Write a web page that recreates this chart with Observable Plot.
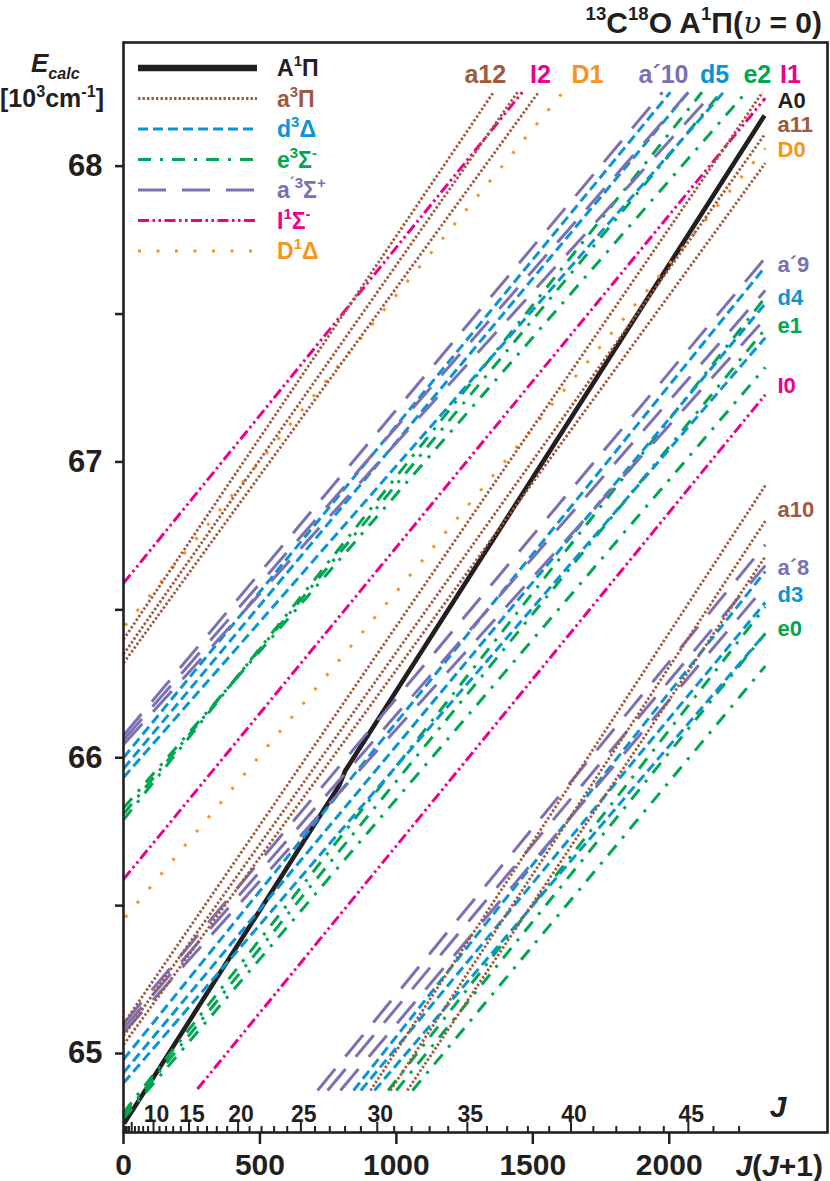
<!DOCTYPE html>
<html><head><meta charset="utf-8">
<script src="https://cdn.jsdelivr.net/npm/d3@7"></script>
<script src="https://cdn.jsdelivr.net/npm/@observablehq/plot@0.6"></script>
<style>
body{margin:0;background:#fff;}
#wrap{position:relative;width:830px;height:1181px;font-family:"Liberation Sans",Arial,sans-serif;}
#wrap svg{position:absolute;left:0;top:0;}
</style></head><body><div id="wrap"></div>
<script>
// ---------- data (x = J(J+1), y = E in 10^3 cm^-1) ----------
// A1Pi v=0 (solid black) : polyline points
const A1Pi_u = [2, 790, 812, 2349];
const A1Pi_E = [64.763, 65.905, 65.955, 68.171];
// each segment: [u start, E start, u end, E end]
const a3Pi = [
  [0, 66.40, 1356, 68.25], [0, 66.35, 1444, 68.25], [0, 66.32, 1521, 68.25],      // a12
  [0, 65.10, 2342, 68.25], [0, 65.06, 2352, 68.11], [0, 65.03, 2352, 68.01],      // a11
  [905, 64.875, 2352, 66.92], [978, 64.875, 2352, 66.80], [1040, 64.875, 2352, 66.68] // a10
];
const d3Delta = [
  [0, 66.00, 2004, 68.25], [0, 65.963, 2070, 68.25], [0, 65.933, 2199, 68.25],    // d5
  [0, 64.98, 2352, 67.66], [0, 64.935, 2352, 67.535], [0, 64.90, 2352, 67.42],    // d4
  [843, 64.875, 2352, 66.63], [870, 64.875, 2352, 66.525], [920, 64.875, 2352, 66.42] // d3
];
const e3Sigma = [
  [0, 65.83, 2272, 68.24], [0, 65.81, 2190, 68.25], [0, 65.79, 2120, 68.25],      // e2
  [0, 64.80, 2352, 67.556], [0, 64.79, 2352, 67.45], [0, 64.78, 2352, 67.32],     // e1
  [970, 64.875, 2352, 66.51], [1000, 64.875, 2352, 66.42], [1059, 64.875, 2352, 66.31] // e0
];
const ap3Sigma = [
  [0, 66.075, 1975, 68.25], [0, 66.06, 2070, 68.25], [0, 66.045, 2162, 68.25],    // a'10
  [0, 65.10, 2352, 67.69], [0, 65.085, 2352, 67.58], [0, 65.07, 2352, 67.485],    // a'9
  [711, 64.875, 2352, 66.72], [748, 64.875, 2352, 66.65], [795, 64.875, 2352, 66.58] // a'8
];
const I1Sigma = [
  [0, 66.59, 1462, 68.25],     // I2
  [0, 65.589, 2352, 68.23],    // I1
  [271, 64.88, 2352, 67.227]   // I0
];
const D1Delta = [
  [6, 66.447, 1612, 68.252],   // D1
  [6, 65.46, 2352, 68.06]      // D0
];

// level labels (text, state, u / E)
const topLabelText = ["a12", "I2", "D1", "a´10", "d5", "e2", "I1"];
const topLabelState = ["a", "I", "D", "ap", "d", "e", "I"];
const topLabelU = [1326, 1528, 1700, 1979, 2166, 2323, 2444];
const rightLabelText = ["A0", "a11", "D0", "a´9", "d4", "e1", "I0", "a10", "a´8", "d3", "e0"];
const rightLabelState = ["A", "a", "D", "ap", "d", "e", "I", "a", "ap", "d", "e"];
const rightLabelE = [68.222, 68.139, 68.056, 67.665, 67.556, 67.461, 67.258, 66.836, 66.643, 66.549, 66.437];

const yTicks = [65, 65.5, 66, 66.5, 67, 67.5, 68];
const xTicks = [0, 500, 1000, 1500, 2000];
const Jticks = d3.range(1, 48);
const Jlabels = [10, 15, 20, 25, 30, 35, 40, 45];

const legendKeys = ["A", "a", "d", "e", "ap", "I", "D"];
const legendParts = {
  A: [["A"], ["1", "sup"], ["Π"]],
  a: [["a"], ["3", "sup"], ["Π"]],
  d: [["d"], ["3", "sup"], ["Δ"]],
  e: [["e"], ["3", "sup"], ["Σ"], ["-", "sup"]],
  ap: [["a"], ["´3", "sup"], ["Σ"], ["+", "sup"]],
  I: [["I"], ["1", "sup"], ["Σ"], ["-", "sup"]],
  D: [["D"], ["1", "sup"], ["Δ"]]
};

// ---------- styles ----------
const sty = {
  A: {color: "#231f20", w: 4.6, dash: null},
  a: {color: "#a0593d", w: 2.8, dash: "2.4 2.1"},
  d: {color: "#0a94d6", w: 3, dash: "10 5"},
  e: {color: "#00a651", w: 3, dash: "13 9 3 9"},
  ap: {color: "#7b70b4", w: 3, dash: "28 16"},
  I: {color: "#ec008c", w: 3, dash: "11 3.5 2.5 3.5 2.5 3.5"},
  D: {color: "#f7941d", w: 3, dash: "3 15.5"}
};

const W = 830, H = 1181, ML = 123, MR = 3, MT = 42, MB = 49;
const plotH = H - MT - MB;
const FONT = "Liberation Sans, Arial, Helvetica, sans-serif";

function segRows(segs) {
  return segs.flatMap((s, i) => [{u: s[0], E: s[1], k: i}, {u: s[2], E: s[3], k: i}]);
}
function lineMark(data, key) {
  const s = sty[key];
  return Plot.line(data, {x: "u", y: "E", z: "k", stroke: s.color, strokeWidth: s.w,
    strokeDasharray: s.dash, strokeLinecap: "butt", strokeLinejoin: "round"});
}
const Arows = A1Pi_u.map((u, i) => ({u, E: A1Pi_E[i], k: 0}));

const topLabels = topLabelText.map((t, i) => ({t, c: sty[topLabelState[i]].color, u: topLabelU[i]}));
const rightLabels = rightLabelText.map((t, i) => ({t, c: sty[rightLabelState[i]].color, E: rightLabelE[i]}));

const chart = Plot.plot({
  width: W, height: H,
  marginLeft: ML, marginRight: MR, marginTop: MT, marginBottom: MB,
  x: {domain: [0, 2580]},
  y: {domain: [64.733, 68.418]},
  color: {type: "identity"},
  style: {fontFamily: FONT, color: "#231f20", background: "transparent", overflow: "visible"},
  marks: [
    lineMark(Arows, "A"),
    lineMark(segRows(D1Delta), "D"),
    lineMark(segRows(I1Sigma), "I"),
    lineMark(segRows(e3Sigma), "e"),
    lineMark(segRows(d3Delta), "d"),
    lineMark(segRows(ap3Sigma), "ap"),
    lineMark(segRows(a3Pi), "a"),
    // J ticks on the inside of the bottom frame
    Plot.ruleX(Jticks.filter(j => j % 5 !== 0), {x: j => j * (j + 1), insetTop: plotH - 6, stroke: "#231f20", strokeWidth: 2}),
    Plot.ruleX(Jticks.filter(j => j % 5 === 0), {x: j => j * (j + 1), insetTop: plotH - 10, stroke: "#231f20", strokeWidth: 2}),
    Plot.text(Jlabels, {x: j => j * (j + 1), text: j => String(j), frameAnchor: "bottom", lineAnchor: "bottom", dy: -11, dx: 3,
      fontSize: 23, fontWeight: "bold", fill: "#231f20"}),
    // level labels
    Plot.text(topLabels, {x: "u", text: "t", fill: "c", frameAnchor: "top", dy: 23, fontSize: 25, fontWeight: "bold", textAnchor: "middle"}),
    Plot.text(rightLabels, {y: "E", text: "t", fill: "c", frameAnchor: "right", dx: -50, fontSize: 22, fontWeight: "bold", textAnchor: "start"}),
    Plot.axisY({ticks: yTicks, tickSize: 8, tickPadding: 13, strokeWidth: 2.5, label: null,
      tickFormat: d => Number.isInteger(d) ? String(d) : "", fontSize: 31, fontWeight: "bold"}),
    Plot.axisX({ticks: xTicks, tickSize: 12, tickPadding: 9, strokeWidth: 2.5, label: null,
      tickFormat: d => String(d), fontSize: 30, fontWeight: "bold"}),
    Plot.frame({stroke: "#231f20", strokeWidth: 2.6})
  ]
});
document.getElementById("wrap").appendChild(chart);

// ---------- overlay: legend, title, axis titles ----------
const ov = d3.select("#wrap").append("svg").attr("width", W).attr("height", H)
  .style("pointer-events", "none").attr("font-family", FONT).attr("font-weight", "bold");

function richText(sel, parts, size, supScale = 0.6) {
  let shift = 0;
  parts.forEach(p => {
    const kind = p[1] || "";
    const target = kind === "sup" ? -0.42 * size : kind === "sub" ? 0.28 * size : 0;
    const ts = sel.append("tspan").text(p[0]).attr("dy", target - shift);
    if (kind) ts.attr("font-size", (kind === "sub" ? 0.62 : supScale) * size);
    if (p[2] === "i") ts.attr("font-style", "italic");
    if (p[2] === "serif") ts.attr("font-style", "italic").attr("font-family", "DejaVu Serif, Liberation Serif, serif").attr("font-weight", "normal");
    shift = target;
  });
}

legendKeys.forEach((k, i) => {
  const y = 68 + i * 30.5;
  const s = sty[k];
  ov.append("line").attr("x1", 138).attr("x2", 257).attr("y1", y).attr("y2", y)
    .attr("stroke", s.color).attr("stroke-width", k === "A" ? 6.5 : s.w)
    .attr("stroke-dasharray", s.dash).attr("stroke-linecap", "butt");
  const t = ov.append("text").attr("x", 277).attr("y", y + 8).attr("font-size", 23).attr("fill", s.color);
  richText(t, legendParts[k], 23, 0.65);
});

const title = ov.append("text").attr("x", 822).attr("y", 33).attr("text-anchor", "end").attr("font-size", 30).attr("fill", "#231f20");
richText(title, [["13", "sup"], ["C"], ["18", "sup"], ["O A"], ["1", "sup"], ["Π("], ["υ", "", "serif"], [" = 0)"]], 30, 0.62);

const eLab = ov.append("text").attr("x", 31).attr("y", 72).attr("font-size", 26).attr("fill", "#231f20");
richText(eLab, [["E", "", "i"], ["calc", "sub", "i"]], 26);
const uLab = ov.append("text").attr("x", 0).attr("y", 107).attr("font-size", 25).attr("fill", "#231f20");
richText(uLab, [["[10"], ["3", "sup"], ["cm"], ["-1", "sup"], ["]"]], 25, 0.65);

const jj = ov.append("text").attr("x", 823).attr("y", 1176).attr("text-anchor", "end").attr("font-size", 30).attr("fill", "#231f20");
richText(jj, [["J", "", "i"], ["("], ["J", "", "i"], ["+1)"]], 30);
ov.append("text").attr("x", 778).attr("y", 1117).attr("text-anchor", "middle").attr("font-size", 30)
  .attr("font-style", "italic").attr("fill", "#231f20").text("J");
</script></body></html>
